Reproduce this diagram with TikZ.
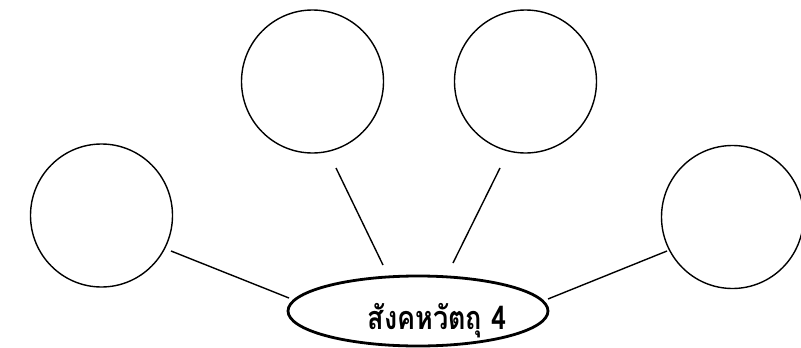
\documentclass[tikz,border=0pt]{standalone}
\usepackage{fontspec}
\usetikzlibrary{shapes.geometric}
\newfontfamily\thaifont[Script=Thai]{Loma}
\begin{document}
\begin{tikzpicture}[x=1pt,y=-1pt,
  bubble/.style={draw=black,line width=1.4pt,ellipse,minimum width=142pt,minimum height=143pt,inner sep=0pt},
  hub/.style={draw=black,line width=2.8pt,ellipse,minimum width=260pt,minimum height=70pt,inner sep=0pt},
  link/.style={draw=black,line width=1.4pt},
  label/.style={font=\thaifont\bfseries\fontsize{27}{30}\selectfont,yscale=1.2,inner sep=0pt}]
\useasboundingbox (0,0) rectangle (801,348);
\node[bubble] (L) at (101.5,215.5) {};
\node[bubble] (TL) at (312.5,81.5) {};
\node[bubble] (TR) at (525.5,81.5) {};
\node[bubble] (R) at (732.5,217) {};
\node[hub] (C) at (418,311) {};
\node[label] (T) at (437,321) {สังคหวัตถุ 4};
\coordinate (l1) at (171,251);
\coordinate (l2) at (289,298);
\coordinate (tl1) at (336,168);
\coordinate (tl2) at (383,265);
\coordinate (tr1) at (500,168);
\coordinate (tr2) at (453,263);
\coordinate (r1) at (667,251);
\coordinate (r2) at (548,299);
\draw[link] (l1) -- (l2);
\draw[link] (tl1) -- (tl2);
\draw[link] (tr1) -- (tr2);
\draw[link] (r1) -- (r2);
\end{tikzpicture}
\end{document}
